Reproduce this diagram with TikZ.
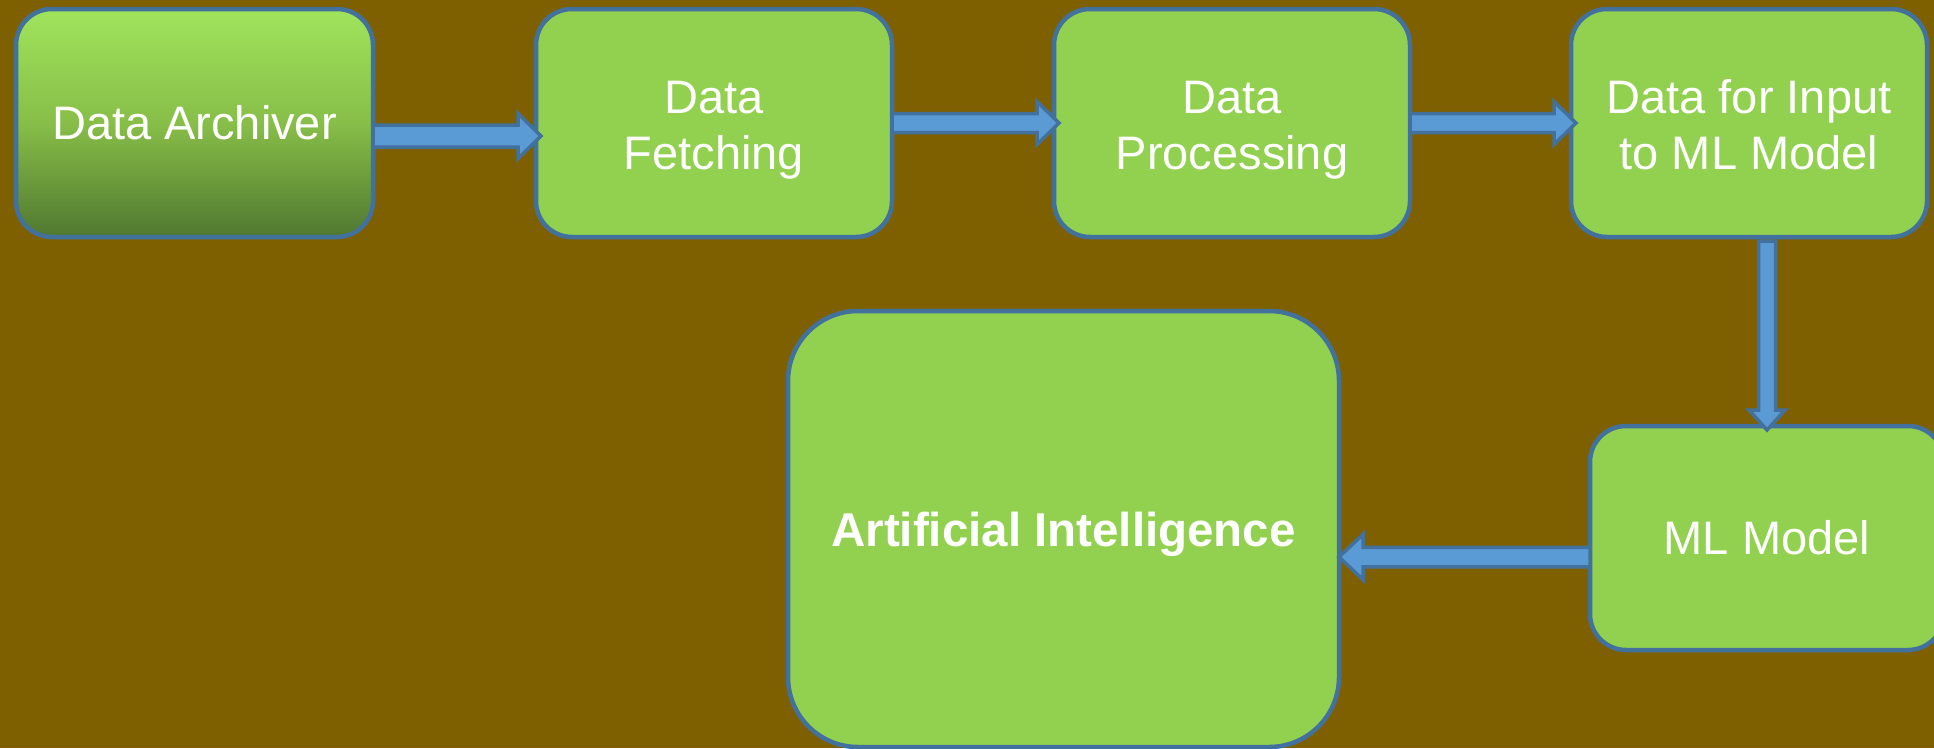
\documentclass[tikz,border=0pt]{standalone}
\usepackage{fontspec}
\setmainfont{Liberation Sans}
\usetikzlibrary{calc}
\definecolor{bg}{RGB}{127,96,0}
\definecolor{boxgreen}{RGB}{146,208,80}
\definecolor{boxedge}{RGB}{65,113,156}
\definecolor{arrfill}{RGB}{91,155,213}
\definecolor{gtop}{RGB}{160,228,92}
\definecolor{gmid}{RGB}{135,190,72}
\definecolor{gbot}{RGB}{80,120,48}
\tikzset{
  stage/.style={draw=boxedge, line width=4.5pt, fill=boxgreen, rounded corners=36pt,
    text=white, font=\fontsize{47}{56}\selectfont, align=center, outer sep=0pt, inner sep=0pt},
  twoline/.style={text height=92pt, text depth=0pt},
  blockarr/.style={fill=arrfill, draw=boxedge, line width=3.5pt, line join=miter},
}
% start, tip, shaft half width, head half width, head length
\newcommand\blockarrow[5]{%
  \coordinate (hb) at ($(#2)!#5!(#1)$);
  \filldraw[blockarr] ($(#1)!#3!90:(#2)$) -- ($(hb)!#3!-90:(#1)$) -- ($(hb)!#4!-90:(#1)$)
    -- (#2) -- ($(hb)!#4!90:(#1)$) -- ($(hb)!#3!90:(#1)$) -- ($(#1)!#3!-90:(#2)$) -- cycle;
}
\begin{document}
\begin{tikzpicture}[x=1pt,y=-1pt]
\useasboundingbox (0,0) rectangle (1934,748);
\fill[bg] (0,0) rectangle (1934,748);
\clip (0,0) rectangle (1934,748);

\node[stage, minimum width=357pt, minimum height=228pt,
  top color=gtop, bottom color=gbot, middle color=gmid] (arch) at (194.5,123) {Data Archiver};
\node[stage, twoline, minimum width=356pt, minimum height=228pt] (fetch) at (714,123) {Data\\Fetching};
\node[stage, twoline, minimum width=356pt, minimum height=228pt] (proc) at (1232,123) {Data\\Processing};
\node[stage, twoline, minimum width=356pt, minimum height=228pt] (inp) at (1749,123) {Data for Input\\to ML Model};
\node[stage, minimum width=354pt, minimum height=224pt] (ml) at (1767,538) {ML Model};
\node[stage, minimum width=551pt, minimum height=436pt, rounded corners=70pt,
  font=\bfseries\fontsize{47.5}{56}\selectfont, text depth=0pt] (ai) at (1063.5,529) {Artificial Intelligence};

\coordinate (a1s) at ($(arch.east)+(0,13)$);
\coordinate (a1t) at ($(fetch.west)+(5,13)$);
\blockarrow{a1s}{a1t}{11pt}{22.5pt}{23pt}

\coordinate (a2s) at (fetch.east);
\coordinate (a2t) at ($(proc.west)+(5,0)$);
\blockarrow{a2s}{a2t}{9.5pt}{21.5pt}{22pt}

\coordinate (a3s) at (proc.east);
\coordinate (a3t) at ($(inp.west)+(5,0)$);
\blockarrow{a3s}{a3t}{9.5pt}{21.5pt}{22pt}

\coordinate (a4t) at ($(ml.north)+(0,4)$);
\coordinate (a4s) at ($(inp.south -| a4t)+(0,4)$);
\blockarrow{a4s}{a4t}{8.5pt}{18pt}{20pt}

\coordinate (a5s) at ($(ml.west)+(0,19)$);
\coordinate (a5t) at (ai.east |- a5s);
\blockarrow{a5s}{a5t}{9.75pt}{22.75pt}{24pt}
\end{tikzpicture}
\end{document}
